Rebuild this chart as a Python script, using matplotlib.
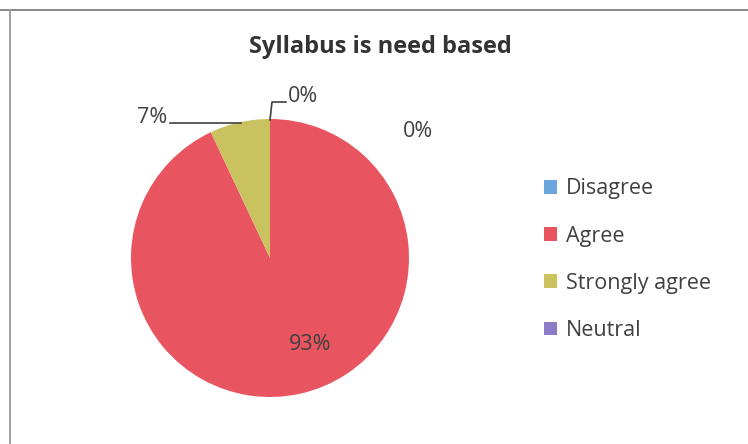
import matplotlib
matplotlib.use("Agg")
import matplotlib.pyplot as plt
from matplotlib.patches import Patch
from matplotlib.lines import Line2D

categories = ["Disagree", "Agree", "Strongly agree", "Neutral"]
values = [0, 93, 7, 0]
labels = ["0%", "93%", "7%", "0%"]
colors = ["#6AA5DE", "#E8545F", "#C9C25E", "#8C7BC6"]
title = "Syllabus is need based"

plt.rcParams['font.family'] = ['Open Sans', 'DejaVu Sans']
W, H = 748, 444
fig = plt.figure(figsize=(W/100, H/100), dpi=100)

# frame lines (top and left)
fig.add_artist(Line2D([0, 1], [1-10/H, 1-10/H], transform=fig.transFigure,
                      color="#7F7F7F", lw=1.3))
fig.add_artist(Line2D([10/W, 10/W], [0, 1-10/H], transform=fig.transFigure,
                      color="#9A9A9A", lw=1.3))

cx, cy, r = 270, 258, 139
ax = fig.add_axes([(cx-r)/W, (H-cy-r)/H, 2*r/W, 2*r/H])
ax.pie(values, colors=colors, startangle=90, counterclock=False, radius=1,
       wedgeprops=dict(linewidth=0))
ax.set_xlim(-1, 1); ax.set_ylim(-1, 1)
ax.set_aspect('equal'); ax.axis('off')

def d(px, py):
    return ((px-cx)/r, (cy-py)/r)

tc = "#404040"
fs = 15.5
# Disagree label with leader
p0, p1, p2 = d(270, 120), d(272, 102), d(286, 102)
ax.plot([p0[0], p1[0], p2[0]], [p0[1], p1[1], p2[1]], color="#404040", lw=1.2, clip_on=False)
x, y = d(288, 96)
ax.text(x, y, labels[0], ha='left', va='center', fontsize=fs, color=tc, clip_on=False)
# Strongly agree label with leader
q0, q1 = d(170, 123), d(241, 123)
ax.plot([q0[0], q1[0]], [q0[1], q1[1]], color="#404040", lw=1.2, clip_on=False)
x, y = d(167, 117)
ax.text(x, y, labels[2], ha='right', va='center', fontsize=fs, color=tc, clip_on=False)
# Neutral
x, y = d(418, 131)
ax.text(x, y, labels[3], ha='center', va='center', fontsize=fs, color=tc, clip_on=False)
# Agree
x, y = d(310, 345)
ax.text(x, y, labels[1], ha='center', va='center', fontsize=fs, color=tc, clip_on=False)

fig.text(380/W, 1-47/H, title, ha='center', va='center', fontsize=17,
         fontweight='bold', color="#333333")

handles = [Patch(facecolor=c, edgecolor='none') for c in colors]
fig.legend(handles, categories, loc='upper left', bbox_to_anchor=(525/W, 1-159/H),
           frameon=False, fontsize=fs, handlelength=0.6, handleheight=0.6,
           handletextpad=0.4, labelspacing=1.22, labelcolor=tc)

fig.savefig("out.png", dpi=100, facecolor="white")
